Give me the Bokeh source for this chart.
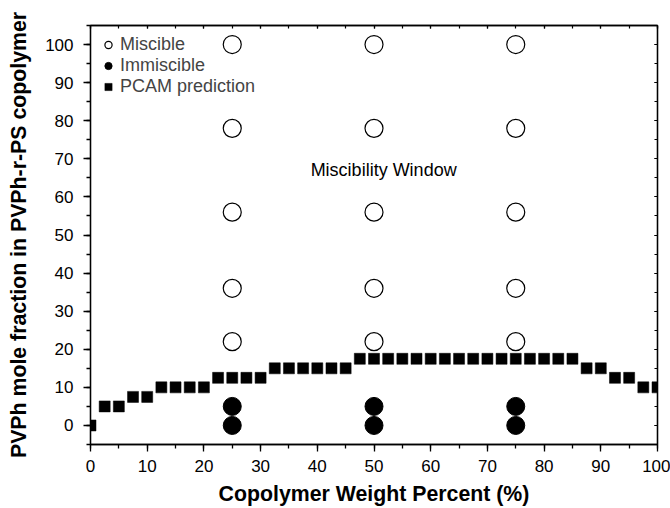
from bokeh.plotting import figure
from bokeh.models import (Range1d, LinearAxis, SingleIntervalTicker, Legend,
                          LegendItem, Label, CustomLabelingPolicy)
from bokeh.embed import file_html
from bokeh.resources import INLINE

# ---- data ----
pcam_x = [0, 2.5, 5, 7.5, 10, 12.5, 15, 17.5, 20, 22.5, 25, 27.5, 30, 32.5, 35,
          37.5, 40, 42.5, 45, 47.5, 50, 52.5, 55, 57.5, 60, 62.5, 65, 67.5, 70,
          72.5, 75, 77.5, 80, 82.5, 85, 87.5, 90, 92.5, 95, 97.5, 100]
pcam_y = [0, 5, 5, 7.5, 7.5, 10, 10, 10, 10, 12.5, 12.5, 12.5, 12.5, 15, 15,
          15, 15, 15, 15, 17.5, 17.5, 17.5, 17.5, 17.5, 17.5, 17.5, 17.5, 17.5,
          17.5, 17.5, 17.5, 17.5, 17.5, 17.5, 17.5, 15, 15, 12.5, 12.5, 10, 10]
miscible_x = [25, 25, 25, 25, 25, 50, 50, 50, 50, 50, 75, 75, 75, 75, 75]
miscible_y = [100, 78, 56, 36, 22, 100, 78, 56, 36, 22, 100, 78, 56, 36, 22]
immiscible_x = [25, 25, 50, 50, 75, 75]
immiscible_y = [5, 0, 5, 0, 5, 0]

FONT = "Liberation Sans"

p = figure(width=670, height=508, output_backend="svg", toolbar_location=None,
           x_range=Range1d(0, 100), y_range=Range1d(-5, 105),
           min_border_left=90, min_border_right=13, min_border_top=25,
           min_border_bottom=64)
p.background_fill_color = "white"
p.border_fill_color = "white"
p.outline_line_color = "black"
p.outline_line_width = 1.3
p.grid.visible = False

p.xaxis.ticker = SingleIntervalTicker(interval=10, num_minor_ticks=2)
p.yaxis.ticker = SingleIntervalTicker(interval=10, num_minor_ticks=2)

for ax in (p.xaxis[0], p.yaxis[0]):
    ax.axis_line_color = "black"
    ax.axis_line_width = 1.3
    ax.major_tick_line_color = "black"
    ax.minor_tick_line_color = "black"
    ax.major_tick_line_width = 1.3
    ax.minor_tick_line_width = 1.3
    ax.major_tick_out = 7
    ax.major_tick_in = 0
    ax.minor_tick_out = 4
    ax.minor_tick_in = 0
    ax.major_label_text_font = FONT
    ax.major_label_text_font_size = "17px"
    ax.major_label_text_color = "black"
    ax.axis_label_text_font = FONT
    ax.axis_label_text_font_size = "21.3px"
    ax.axis_label_text_font_style = "bold"
    ax.axis_label_text_color = "black"

p.xaxis.axis_label = "Copolymer Weight Percent (%)"
p.yaxis.axis_label = "PVPh mole fraction in PVPh-r-PS copolymer"
p.xaxis.major_label_standoff = 8
p.yaxis.major_label_standoff = 10
p.xaxis.axis_label_standoff = 7
p.yaxis.axis_label_standoff = 11

# mirror axes with inward ticks and no labels
no_labels = "for (const i of Array.from(indices)) { indices.unset(i) } return indices"
for loc in ("above", "right"):
    ax = LinearAxis(ticker=SingleIntervalTicker(interval=10, num_minor_ticks=2),
                    major_label_policy=CustomLabelingPolicy(code=no_labels),
                    major_label_text_font_size="1px", major_label_standoff=0,
                    major_tick_in=3, major_tick_out=0,
                    minor_tick_in=3, minor_tick_out=0,
                    major_tick_line_width=1.2, minor_tick_line_width=1.2,
                    axis_line_color="black", axis_line_width=1.3)
    p.add_layout(ax, loc)

r_mis = p.scatter(miscible_x, miscible_y, marker="circle", size=18,
                  fill_color="white", line_color="black", line_width=1.2)
r_imm = p.scatter(immiscible_x, immiscible_y, marker="circle", size=18,
                  fill_color="black", line_color="black")
r_pcam = p.scatter(pcam_x, pcam_y, marker="square", size=11,
                   fill_color="black", line_color="black", line_width=0.5)

p.add_layout(Label(x=51.7, y=67, text="Miscibility Window", text_font=FONT,
                   text_font_size="18px", text_align="center",
                   text_baseline="middle", text_color="black"))

legend = Legend(items=[LegendItem(label="Miscible", renderers=[r_mis]),
                       LegendItem(label="Immiscible", renderers=[r_imm]),
                       LegendItem(label="PCAM prediction", renderers=[r_pcam])],
                location="top_left", margin=4, padding=5, spacing=0,
                glyph_width=18, glyph_height=19, label_standoff=3,
                label_text_font=FONT, label_text_font_size="18px",
                border_line_alpha=0, background_fill_alpha=0)
p.add_layout(legend)

open("out.html", "w").write(file_html(p, INLINE))
